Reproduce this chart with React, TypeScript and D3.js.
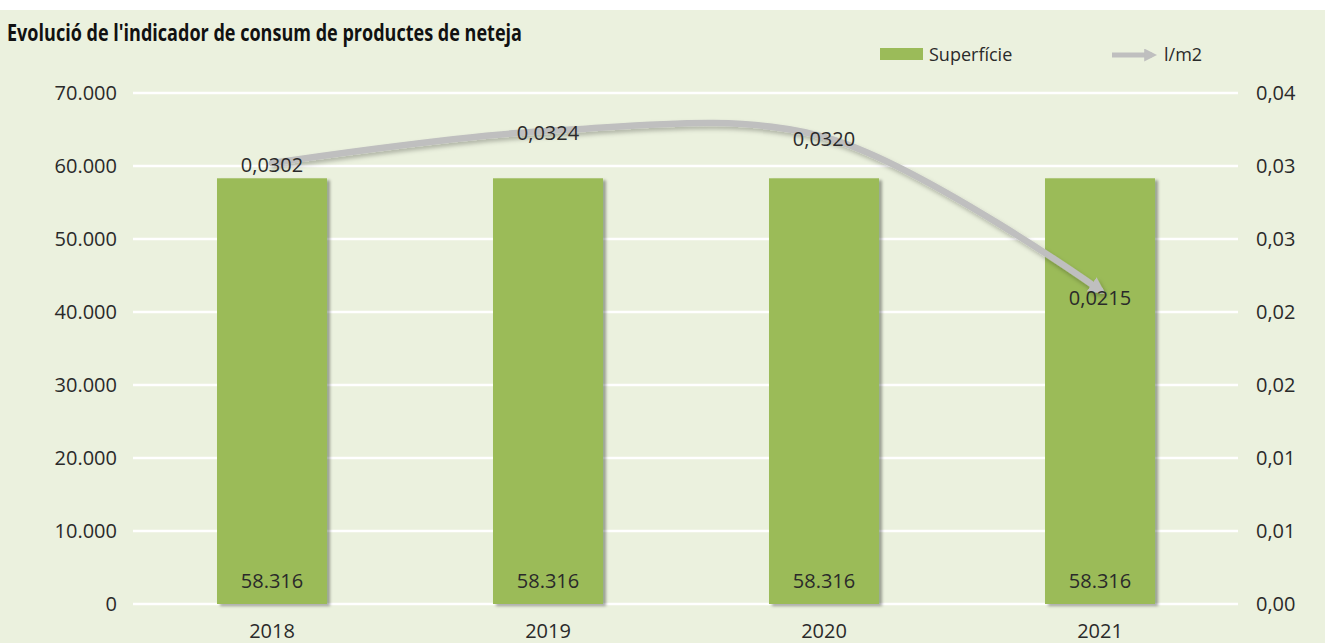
import React from "react";
import * as d3 from "d3";

const years = ["2018", "2019", "2020", "2021"];
const superficie = [58316, 58316, 58316, 58316];
const lm2 = [0.0302, 0.0324, 0.032, 0.0215];
const leftTicks = [0, 10000, 20000, 30000, 40000, 50000, 60000, 70000];
const rightTicks = [0, 0.005, 0.01, 0.015, 0.02, 0.025, 0.03, 0.035];
const rightTickLabels = ["0,00", "0,01", "0,01", "0,02", "0,02", "0,03", "0,03", "0,04"];
const title = "Evolució de l'indicador de consum de productes de neteja";
const legendLabels = ["Superfície", "l/m2"];

const W = 1325;
const H = 643;
const FONT = "'Open Sans', sans-serif";
const TXT = "#2a2a2a";
const FS = 20;

export default function App() {
  const left = 134, right = 1238, top = 93, bottom = 604;
  const x = d3.scaleBand<string>().domain(years).range([left, right]).paddingInner(0.6014).paddingOuter(0.3007);
  const yL = d3.scaleLinear().domain([0, 70000]).range([bottom, top]);
  const yR = d3.scaleLinear().domain([0, 0.035]).range([bottom, top]);
  const loc = d3.formatLocale({ decimal: ",", thousands: ".", grouping: [3], currency: ["", ""] });
  const fmt = loc.format(",");
  const cx = (d: string) => (x(d) as number) + x.bandwidth() / 2;
  const pts: [number, number][] = years.map((y, i) => [cx(y), yR(lm2[i])]);
  const line = d3.line().curve(d3.curveCatmullRom.alpha(0.5))(pts) as string;

  return (
    <svg width={W} height={H} style={{ position: "absolute", left: 0, top: 0 }} fontFamily={FONT}>
      <defs>
        <filter id="barShadow" x="-20%" y="-20%" width="140%" height="140%">
          <feDropShadow dx="3" dy="2" stdDeviation="1.8" floodColor="#000" floodOpacity="0.35" />
        </filter>
        <filter id="lineShadow" x="-10%" y="-30%" width="120%" height="160%">
          <feDropShadow dx="2" dy="3" stdDeviation="2" floodColor="#000" floodOpacity="0.25" />
        </filter>
        <marker id="arrow" viewBox="0 0 10 10" refX="6" refY="5" markerWidth="2.6" markerHeight="2.6" orient="auto" markerUnits="strokeWidth">
          <path d="M0,0 L10,5 L0,10 z" fill="#BFBFBF" />
        </marker>
      </defs>
      <rect x={0} y={0} width={W} height={H} fill="#ffffff" />
      <rect x={0} y={10} width={W} height={H - 10} fill="#EBF1DE" />

      <text x={7} y={41} fontSize={23} fontWeight="bold" fill="#111" textLength={515} lengthAdjust="spacingAndGlyphs">{title}</text>

      {/* legend */}
      <rect x={880} y={48} width={43} height={12} fill="#9BBB59" />
      <text x={929} y={61} fontSize={18} fill={TXT}>{legendLabels[0]}</text>
      <line x1={1112} y1={55} x2={1152} y2={55} stroke="#BFBFBF" strokeWidth={5} markerEnd="url(#arrow)" />
      <text x={1164} y={61} fontSize={18} fill={TXT}>{legendLabels[1]}</text>

      {/* grid */}
      {leftTicks.map((t) => (
        <line key={"g" + t} x1={left - 1} x2={right} y1={yL(t)} y2={yL(t)} stroke="#ffffff" strokeWidth={2.5} />
      ))}

      {/* left axis */}
      {leftTicks.map((t) => (
        <text key={"l" + t} x={117} y={yL(t)} dy="0.35em" textAnchor="end" fontSize={FS} fill={TXT}>{fmt(t)}</text>
      ))}
      {/* right axis */}
      {rightTicks.map((t, i) => (
        <text key={"r" + t} x={1256} y={yR(t)} dy="0.35em" textAnchor="start" fontSize={FS} fill={TXT}>{rightTickLabels[i]}</text>
      ))}

      {/* bars */}
      {years.map((y, i) => (
        <rect key={"b" + y} x={x(y)} y={yL(superficie[i])} width={x.bandwidth()} height={bottom - yL(superficie[i])} fill="#9BBB59" filter="url(#barShadow)" />
      ))}
      {years.map((y, i) => (
        <text key={"bl" + y} x={cx(y)} y={588} textAnchor="middle" fontSize={FS} fill={TXT}>{fmt(superficie[i])}</text>
      ))}

      {/* x axis labels */}
      {years.map((y) => (
        <text key={"x" + y} x={cx(y)} y={638} textAnchor="middle" fontSize={FS} fill={TXT}>{y}</text>
      ))}

      {/* line */}
      <g filter="url(#lineShadow)">
        <path d={line} fill="none" stroke="#BFBFBF" strokeWidth={6.5} strokeLinecap="round" markerEnd="url(#arrow)" />
      </g>
      {years.map((y, i) => (
        <text key={"ll" + y} x={cx(y)} y={yR(lm2[i]) + (i === 3 ? 8 : 2)} dy="0.35em" textAnchor="middle" fontSize={FS} fill={TXT}>
          {lm2[i].toFixed(4).replace(".", ",")}
        </text>
      ))}
    </svg>
  );
}
